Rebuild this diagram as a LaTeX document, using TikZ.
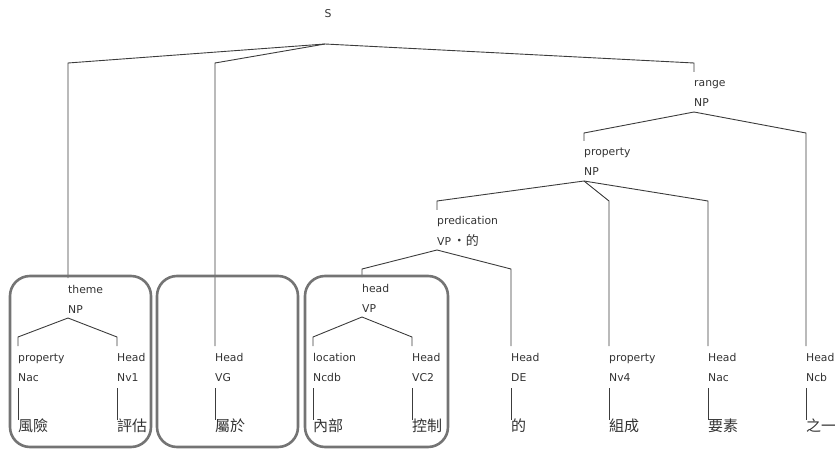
\documentclass[tikz,border=0pt]{standalone}
\usepackage{fontspec}
\setmainfont{DejaVu Sans}
\newfontfamily\cjk{Noto Sans CJK TC}
\definecolor{txt}{HTML}{333333}
\definecolor{edge}{HTML}{3C3C3C}
\definecolor{frame}{HTML}{747474}
\tikzset{
  lbl/.style={anchor=base west, inner sep=0pt, text=txt, font=\fontsize{10.8}{12}\selectfont},
  word/.style={anchor=base west, inner sep=0pt, text=txt, font=\cjk\fontsize{15}{16}\selectfont},
  tline/.style={draw=edge, line width=0.9pt},
  group/.style={draw=frame, line width=2.6pt, rounded corners=20pt}
}
% constituent: name, x, top y, role, category
\newcommand\constit[5]{%
  \coordinate (#1) at (#2,#3);
  \node[lbl] (#1-r) at (#2,#3+15) {#4};
  \node[lbl] (#1-c) at (#2,#3+35) {#5};
  \coordinate (#1-ap) at (#2,#3+40);
}
% branch from parent apex to child top, with a knee at height #3
\newcommand\tbranch[3]{\draw[tline] (#1-ap) -- (#2 |- 0,#3) -- (#2);}
% leaf word under a terminal constituent
\newcommand\leafword[3]{%
  \node[word] (#1-w) at (#2,431) {#3};
  \draw[tline] ([yshift=-7pt]#1-c.base west) -- ([yshift=11pt]#1-w.base west);
}
\begin{document}
\begin{tikzpicture}[x=1pt, y=-1pt]
\useasboundingbox (0,0) rectangle (835,449);

% root
\node[lbl, anchor=base] (S) at (328,18) {S};
\coordinate (S-ap) at (325,44);

% constituents
\constit{theme}{68}{278}{theme}{NP}
\constit{prop1}{18}{346}{property}{Nac}
\constit{head1}{117}{346}{Head}{Nv1}
\constit{vg}{215}{346}{Head}{VG}
\constit{range}{694}{72}{range}{NP}
\constit{propnp}{584}{141}{property}{NP}
\constit{pred}{437}{210}{predication}{VP\,{\cjk\fontsize{13}{14}\selectfont ・的}}
\constit{headvp}{362}{277}{head}{VP}
\constit{loc}{313}{346}{location}{Ncdb}
\constit{vc2}{412}{346}{Head}{VC2}
\constit{de}{511}{346}{Head}{DE}
\constit{nv4}{609}{346}{property}{Nv4}
\constit{nac}{708}{346}{Head}{Nac}
\constit{ncb}{806}{346}{Head}{Ncb}

% branches
\tbranch{S}{theme}{63}
\tbranch{S}{vg}{63}
\tbranch{S}{range}{63}
\tbranch{theme}{prop1}{337}
\tbranch{theme}{head1}{337}
\tbranch{range}{propnp}{133}
\tbranch{range}{ncb}{133}
\tbranch{propnp}{pred}{201}
\tbranch{propnp}{nv4}{201}
\tbranch{propnp}{nac}{201}
\tbranch{pred}{headvp}{269}
\tbranch{pred}{de}{269}
\tbranch{headvp}{loc}{337}
\tbranch{headvp}{vc2}{337}

% words
\leafword{prop1}{18}{風險}
\leafword{head1}{117}{評估}
\leafword{vg}{215}{屬於}
\leafword{loc}{313}{內部}
\leafword{vc2}{412}{控制}
\leafword{de}{511}{的}
\leafword{nv4}{609}{組成}
\leafword{nac}{708}{要素}
\leafword{ncb}{806}{之一}

% grouping frames
\draw[group] (10,276) rectangle (151,447);
\draw[group] (157,276) rectangle (298,447);
\draw[group] (305,276) rectangle (448,447);
\end{tikzpicture}
\end{document}
